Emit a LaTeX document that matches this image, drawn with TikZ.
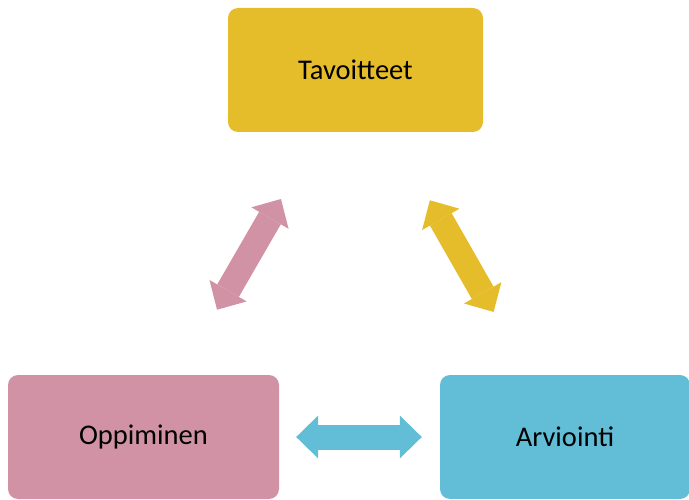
\documentclass[tikz,border=0pt]{standalone}
\usepackage{fontspec}
\setmainfont{Carlito}
\usetikzlibrary{arrows.meta}
\definecolor{tavgold}{HTML}{E5BC29}
\definecolor{opppink}{HTML}{D192A6}
\definecolor{arvblue}{HTML}{62BDD6}

\begin{document}
\begin{tikzpicture}[x=1pt,y=1pt,
    box/.style={rounded corners=10pt, minimum height=124pt, inner sep=0pt,
      font=\fontsize{28.5}{34}\selectfont},
    bi/.style={line width=25pt,
      {Triangle[length=22pt,width=43pt,line width=0pt]}-{Triangle[length=22pt,width=43pt,line width=0pt]}}]
    \useasboundingbox (0,0) rectangle (689,499);
    % boxes
    \node (tav) [box, fill=tavgold, minimum width=255pt] at (355.5,429) {Tavoitteet};
    \node (opp) [box, fill=opppink, minimum width=271pt] at (143.5,62) {Oppiminen};
    \node (arv) [box, fill=arvblue, minimum width=250pt] at (565,62) {Arviointi};
    % arrows
    \draw[bi, opppink, shorten <=147pt, shorten >=149pt] (opp.center) -- (tav.center);
    \draw[bi, tavgold, shorten <=150pt, shorten >=144pt] (tav.center) -- (arv.center);
    \draw[bi, arvblue, shorten <=17pt, shorten >=18pt] (opp.east) -- (arv.west);
\end{tikzpicture}
\end{document}
